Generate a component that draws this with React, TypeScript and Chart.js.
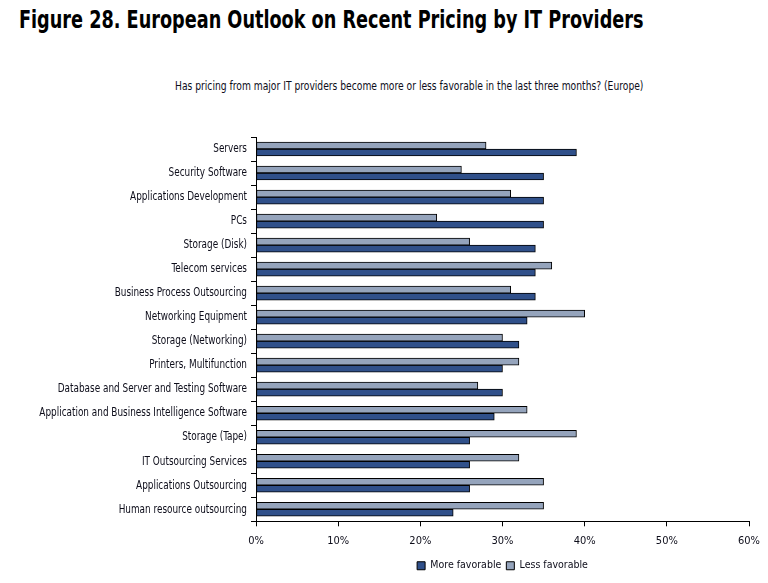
import React, { useEffect, useRef } from "react";
import { Chart, registerables } from "chart.js";

Chart.register(...registerables);

const categories = [
  "Servers",
  "Security Software",
  "Applications Development",
  "PCs",
  "Storage (Disk)",
  "Telecom services",
  "Business Process Outsourcing",
  "Networking Equipment",
  "Storage (Networking)",
  "Printers, Multifunction",
  "Database and Server and Testing Software",
  "Application and Business Intelligence Software",
  "Storage (Tape)",
  "IT Outsourcing Services",
  "Applications Outsourcing",
  "Human resource outsourcing",
];

const moreFavorable = [39, 35, 35, 35, 34, 34, 34, 33, 32, 30, 30, 29, 26, 26, 26, 24];
const lessFavorable = [28, 25, 31, 22, 26, 36, 31, 40, 30, 32, 27, 33, 39, 32, 35, 35];

const titleText = "Figure 28. European Outlook on Recent Pricing by IT Providers";
const subtitleText =
  "Has pricing from major IT providers become more or less favorable in the last three months? (Europe)";

const FONT = "'DejaVu Sans Condensed', sans-serif";
const TEXT = "#0d0d1a";

// Draws the category labels of the y scale with a narrow horizontal scale,
// positioned by the scale itself.
const condensedYLabels = {
  id: "condensedYLabels",
  afterDraw(chart: any) {
    const ys = chart.scales.y;
    const ctx = chart.ctx;
    ctx.save();
    ctx.fillStyle = TEXT;
    ctx.font = `12.5px ${FONT}`;
    ctx.textAlign = "right";
    ctx.textBaseline = "middle";
    ys.ticks.forEach((t: any, i: number) => {
      const y = ys.getPixelForTick(i);
      ctx.save();
      ctx.translate(ys.right - 9, y);
      ctx.scale(0.79, 1);
      ctx.fillText(String(ys.getLabelForValue(t.value)), 0, 0);
      ctx.restore();
    });
    ctx.restore();
  },
};

export default function App() {
  const ref = useRef<HTMLCanvasElement | null>(null);

  useEffect(() => {
    if (!ref.current) return;
    const chart = new Chart(ref.current, {
      type: "bar",
      data: {
        labels: categories,
        datasets: [
          {
            label: "Less favorable",
            data: lessFavorable,
            backgroundColor: "#95A4BC",
            borderColor: "#000000",
            borderWidth: 1,
            borderSkipped: false,
            barThickness: 7,
          },
          {
            label: "More favorable",
            data: moreFavorable,
            backgroundColor: "#30508A",
            borderColor: "#000000",
            borderWidth: 1,
            borderSkipped: false,
            barThickness: 7,
          },
        ],
      },
      options: {
        indexAxis: "y",
        responsive: false,
        animation: false,
        layout: { padding: { top: 137, right: 13, left: 0, bottom: 2 } },
        scales: {
          x: {
            min: 0,
            max: 60,
            ticks: {
              stepSize: 10,
              callback: (v: any) => v + "%",
              color: TEXT,
              font: { family: FONT, size: 11 },
              padding: 8,
            },
            grid: {
              drawOnChartArea: false,
              color: "#000",
              tickLength: 5,
              tickColor: "#000",
            },
            border: { color: "#000", width: 1 },
          },
          y: {
            afterFit: (scale: any) => {
              scale.width = 256;
            },
            ticks: {
              display: false,
              autoSkip: false,
            },
            grid: {
              drawOnChartArea: false,
              color: "#000",
              tickLength: 5,
              tickColor: "#000",
            },
            border: { color: "#000", width: 1 },
          },
        },
        plugins: {
          legend: {
            position: "bottom",
            reverse: true,
            fullSize: false,
            labels: {
              color: TEXT,
              font: { family: FONT, size: 10.5 },
              boxWidth: 8,
              boxHeight: 8,
              padding: 5,
            },
          },
          tooltip: { enabled: false },
        },
      },
      plugins: [condensedYLabels],
    });
    return () => chart.destroy();
  }, []);

  return (
    <div
      style={{
        position: "fixed",
        left: 0,
        top: 0,
        width: 768,
        height: 583,
        background: "#fff",
      }}
    >
      <div
        style={{
          position: "absolute",
          left: 19,
          top: 6,
          fontFamily: FONT,
          fontWeight: "bold",
          fontSize: 24,
          color: "#000",
          whiteSpace: "nowrap",
          transform: "scaleX(0.818)",
          transformOrigin: "left top",
        }}
      >
        {titleText}
      </div>
      <div
        style={{
          position: "absolute",
          left: 175,
          top: 79,
          fontFamily: FONT,
          fontSize: 12,
          color: TEXT,
          whiteSpace: "nowrap",
          transform: "scaleX(0.85)",
          transformOrigin: "left top",
        }}
      >
        {subtitleText}
      </div>
      <canvas
        ref={ref}
        width={768}
        height={583}
        style={{ position: "absolute", left: 0, top: 0 }}
      />
    </div>
  );
}
